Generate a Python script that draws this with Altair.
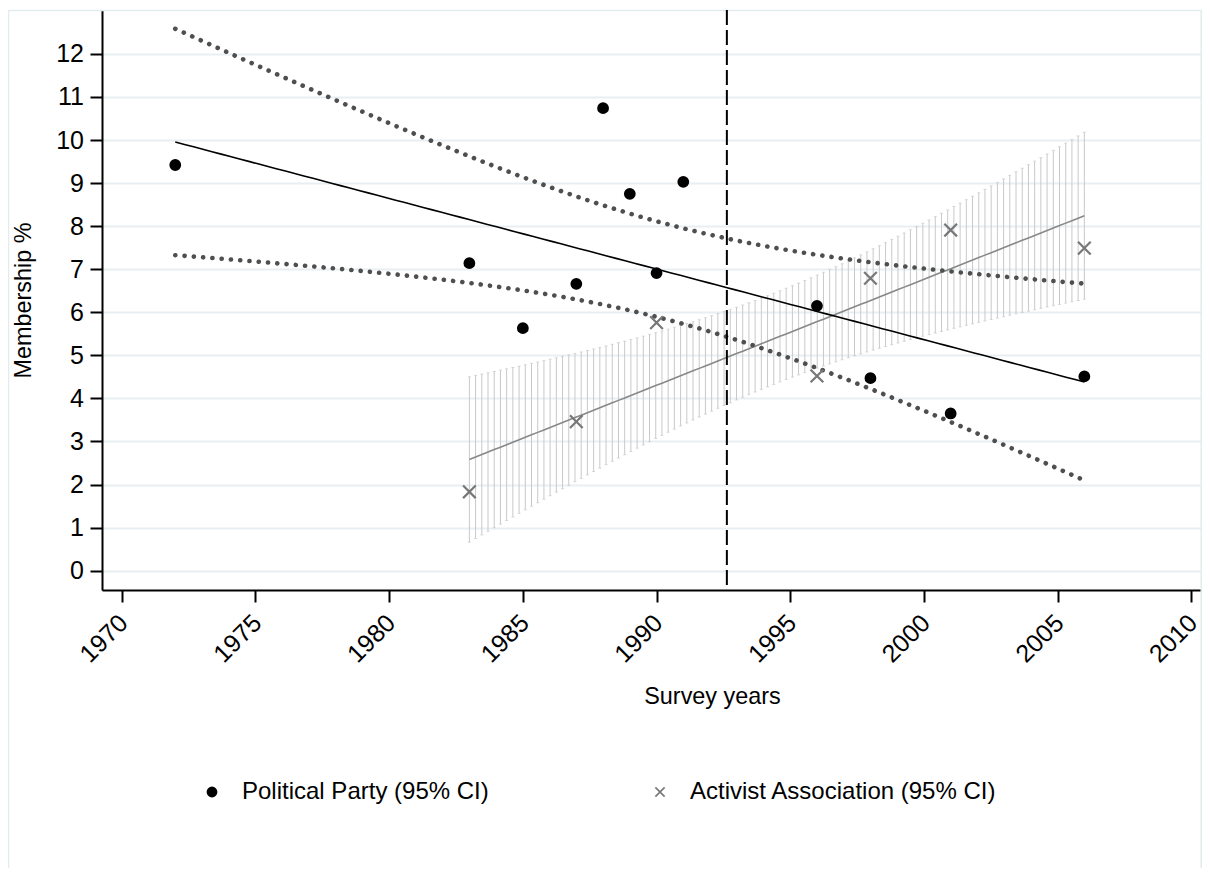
import altair as alt
import pandas as pd

# ---------------- data ----------------
PARTY = "Political Party (95% CI)"
ACTIVIST = "Activist Association (95% CI)"

party_years = [1972, 1983, 1985, 1987, 1988, 1989, 1990, 1991, 1996, 1998, 2001, 2006]
party_values = [9.42, 7.14, 5.63, 6.66, 10.74, 8.75, 6.91, 9.03, 6.15, 4.47, 3.65, 4.51]

activist_years = [1983, 1987, 1990, 1996, 1998, 2001, 2006]
activist_values = [1.83, 3.46, 5.76, 4.52, 6.79, 7.91, 7.49]

# two-sided 95% Student t critical values (df = n - 2) used by the fitted CI
t_critical = {PARTY: 2.228, ACTIVIST: 2.571}

xline_years = [1992.63]
x_ticks = [1970, 1975, 1980, 1985, 1990, 1995, 2000, 2005, 2010]
y_ticks = [0, 1, 2, 3, 4, 5, 6, 7, 8, 9, 10, 11, 12]

# ---------------- tables ----------------
points = pd.DataFrame({
    "series": [PARTY] * len(party_years) + [ACTIVIST] * len(activist_years),
    "year": party_years + activist_years,
    "value": party_values + activist_values,
})
points["t"] = points["series"].map(t_critical)
xline = pd.DataFrame({"year": xline_years})

FONT = "Liberation Sans"
W, H = 1100, 580

xs = alt.Scale(domain=[1969.26, 2010.40], nice=False, zero=False)
ys = alt.Scale(domain=[-0.45, 13.02], nice=False, zero=False)

x_axis = alt.Axis(values=x_ticks, labelAngle=315, labelAlign="right", labelBaseline="top",
                  labelPadding=8, labelOffset=-7, grid=False, format="d", labelFlush=False,
                  labelOverlap=False, titleX=610, titleY=113, titleAlign="center",
                  titleBaseline="alphabetic")
y_axis = alt.Axis(values=y_ticks, grid=True, gridColor="#e7eff2", gridWidth=2, labelPadding=6.5,
                  labelFlush=False, labelOverlap=False, titleAngle=270, titleX=-72, titleY=290,
                  titleAlign="center", titleBaseline="alphabetic")


def X(field):
    return alt.X(f"{field}:Q", scale=xs, axis=x_axis, title="Survey years")


def Y(field):
    return alt.Y(f"{field}:Q", scale=ys, axis=y_axis, title="Membership %")


# linear fit and 95% CI of the mean prediction, computed by Vega transforms from the points
fit = (
    alt.Chart(points)
    .transform_joinaggregate(mx="mean(year)", my="mean(value)", n="count()", groupby=["series"])
    .transform_calculate(dxx="pow(datum.year - datum.mx, 2)")
    .transform_calculate(dxy="(datum.year - datum.mx) * (datum.value - datum.my)")
    .transform_joinaggregate(sxx="sum(dxx)", sxy="sum(dxy)", groupby=["series"])
    .transform_calculate(res2="pow(datum.value - datum.my - datum.sxy / datum.sxx * (datum.year - datum.mx), 2)")
    .transform_aggregate(sse="sum(res2)", xmin="min(year)", xmax="max(year)",
                         groupby=["series", "mx", "my", "n", "sxx", "sxy", "t"])
    .transform_calculate(idx="sequence(0, 100)")
    .transform_flatten(["idx"])
    .transform_calculate(year="datum.xmin + datum.idx * (datum.xmax - datum.xmin) / 99")
    .transform_calculate(fit="datum.my + datum.sxy / datum.sxx * (datum.year - datum.mx)")
    .transform_calculate(hw="datum.t * sqrt(datum.sse / (datum.n - 2) * (1 / datum.n + pow(datum.year - datum.mx, 2) / datum.sxx))")
    .transform_calculate(lo="datum.fit - datum.hw")
    .transform_calculate(hi="datum.fit + datum.hw")
)

is_party = alt.datum.series == PARTY
is_act = alt.datum.series == ACTIVIST

border = alt.Chart(pd.DataFrame({"a": [0]})).mark_rect(
    filled=False, stroke="#e2ebee", strokeWidth=1.5
).encode(x=alt.value(-93.5), x2=alt.value(W - 0.8), y=alt.value(0.5), y2=alt.value(H + 300))

HATCH = "#c9c9c9"
hatch = fit.transform_filter(is_act).mark_rule(color=HATCH, strokeWidth=1).encode(
    x=X("year"), y=Y("lo"), y2="hi:Q")
cap_hi = fit.transform_filter(is_act).mark_tick(color=HATCH, orient="horizontal", size=3, thickness=1).encode(
    x=X("year"), y=Y("hi"))
cap_lo = fit.transform_filter(is_act).mark_tick(color=HATCH, orient="horizontal", size=3, thickness=1).encode(
    x=X("year"), y=Y("lo"))

act_line = fit.transform_filter(is_act).mark_line(color="#888888", strokeWidth=1.6).encode(
    x=X("year"), y=Y("fit"))

dot_style = dict(color="#4f4f4f", strokeWidth=4.6, strokeDash=[0.1, 9.2], strokeCap="round")
party_lo = fit.transform_filter(is_party).mark_line(**dot_style).encode(x=X("year"), y=Y("lo"))
party_hi = fit.transform_filter(is_party).mark_line(**dot_style).encode(x=X("year"), y=Y("hi"))

party_line = fit.transform_filter(is_party).mark_line(color="#000000", strokeWidth=1.6).encode(
    x=X("year"), y=Y("fit"))

vline = alt.Chart(xline).mark_rule(color="#000000", strokeWidth=2, strokeDash=[15, 5]).encode(
    x=X("year"))

dom = [PARTY, ACTIVIST]
pts = alt.Chart(points).mark_point(strokeWidth=2.2, opacity=1).encode(
    x=X("year"),
    y=Y("value"),
    shape=alt.Shape("series:N", scale=alt.Scale(domain=dom, range=["circle", "M-1,-1L1,1M-1,1L1,-1"]),
                    legend=alt.Legend(title=None, orient="none", legendX=98, legendY=770,
                                      direction="horizontal", columns=2, columnPadding=159,
                                      labelLimit=0)),
    stroke=alt.Stroke("series:N", scale=alt.Scale(domain=dom, range=["#000000", "#777777"]), title=None),
    fill=alt.Fill("series:N", scale=alt.Scale(domain=dom, range=["#000000", "transparent"]), title=None),
    # reversed domain order keeps the (hidden) size legend separate from the shape legend
    size=alt.Size("series:N", scale=alt.Scale(domain=[ACTIVIST, PARTY], range=[160, 92]), legend=None),
)

chart = (
    alt.layer(border, hatch, cap_hi, cap_lo, act_line, party_lo, party_hi, party_line, vline, pts)
    .properties(width=W, height=H, background="#ffffff",
                padding={"left": 94, "top": 2, "right": 0, "bottom": 278},
                autosize=alt.AutoSizeParams(type="none"))
    .configure_view(stroke=None)
    .configure_axis(domainColor="#000000", domainWidth=2, tickColor="#000000", tickWidth=2, tickSize=12,
                    labelFont=FONT, labelFontSize=25, labelColor="#000000",
                    titleFont=FONT, titleFontSize=23.4, titleColor="#000000", titleFontWeight="normal")
    .configure_legend(labelFont=FONT, labelFontSize=24, labelColor="#000000", symbolSize=85,
                      symbolStrokeWidth=1.6, labelOffset=18, symbolOpacity=1, padding=0,
                      labelLimit=0)
)

chart.save("out.html", embed_options={"renderer": "svg", "actions": False})
